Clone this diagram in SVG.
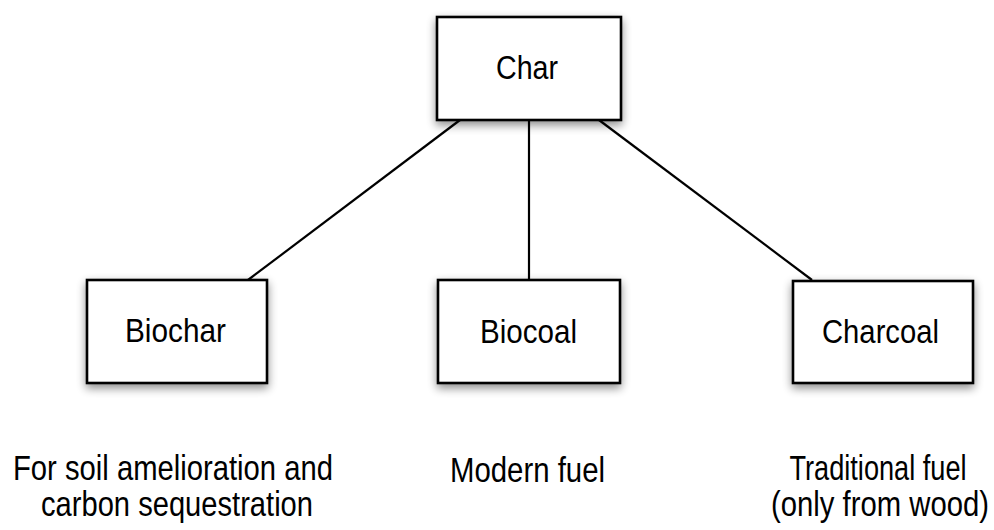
<svg xmlns="http://www.w3.org/2000/svg" width="994" height="530" viewBox="0 0 994 530">
<defs>
<filter id="sh" x="-20%" y="-20%" width="140%" height="150%">
<feGaussianBlur in="SourceAlpha" stdDeviation="5"/>
<feOffset dx="0" dy="4" result="b"/>
<feComponentTransfer><feFuncA type="linear" slope="0.45"/></feComponentTransfer>
<feMerge><feMergeNode/><feMergeNode in="SourceGraphic"/></feMerge>
</filter>
<style>
.box{fill:#fff;stroke:#000;stroke-width:2.6;filter:url(#sh)}
.conn{stroke:#000;stroke-width:2.2;fill:none}
.lbl{font-family:"Liberation Sans",Arial,sans-serif;font-size:33px;fill:#000;text-anchor:middle}
.cap{font-family:"Liberation Sans",Arial,sans-serif;font-size:35px;fill:#000;text-anchor:middle}
</style>
</defs>
<rect width="994" height="530" fill="#fff"/>
<g id="connectors">
<line class="conn" x1="460" y1="120" x2="248" y2="280"/>
<line class="conn" x1="529" y1="120" x2="529" y2="280"/>
<line class="conn" x1="599" y1="120" x2="812" y2="280"/>
</g>
<g id="char">
<rect class="box" x="437" y="17" width="184" height="103"/>
<text class="lbl" x="527" y="79" textLength="62" lengthAdjust="spacingAndGlyphs">Char</text>
</g>
<g id="biochar">
<rect class="box" x="87" y="280" width="180" height="103"/>
<text class="lbl" x="175.5" y="342" textLength="101" lengthAdjust="spacingAndGlyphs">Biochar</text>
</g>
<g id="biocoal">
<rect class="box" x="438" y="280" width="182" height="103"/>
<text class="lbl" x="528.5" y="343" textLength="97" lengthAdjust="spacingAndGlyphs">Biocoal</text>
</g>
<g id="charcoal">
<rect class="box" x="793" y="281" width="180" height="102"/>
<text class="lbl" x="880.5" y="343" textLength="117" lengthAdjust="spacingAndGlyphs">Charcoal</text>
</g>
<g id="captions">
<text class="cap" x="173" y="480" textLength="320" lengthAdjust="spacingAndGlyphs">For soil amelioration and</text>
<text class="cap" x="177" y="516" textLength="272" lengthAdjust="spacingAndGlyphs">carbon sequestration</text>
<text class="cap" x="527.5" y="482" textLength="155" lengthAdjust="spacingAndGlyphs">Modern fuel</text>
<text class="cap" transform="translate(878,480) scale(0.776,1)" x="0" y="0">Traditional fuel</text>
<text class="cap" transform="translate(880,516) scale(0.837,1)" x="0" y="0">(only from wood)</text>
</g>
</svg>
